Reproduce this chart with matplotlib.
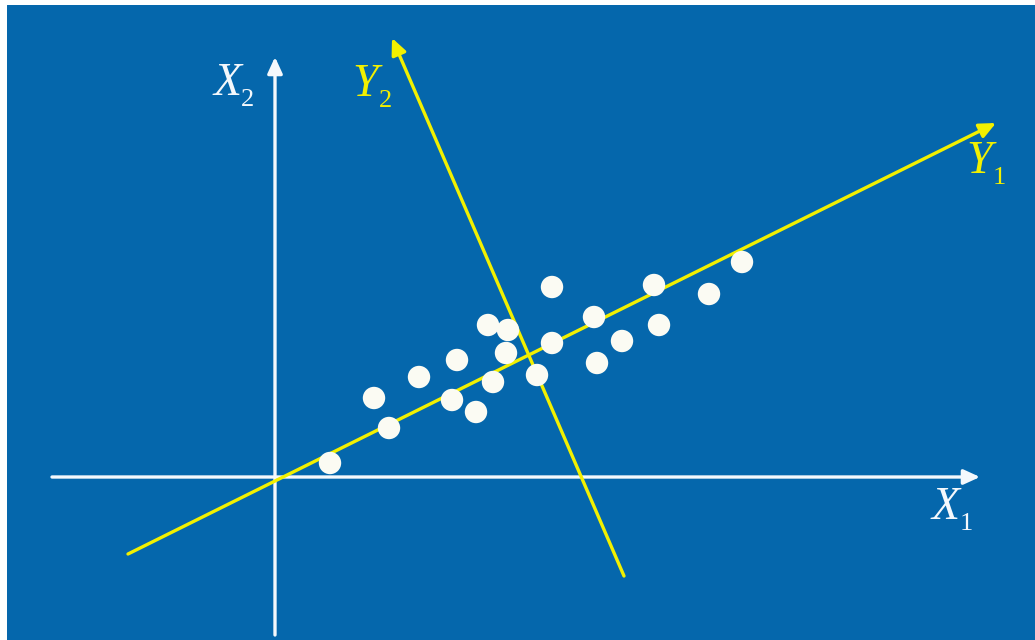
import numpy as np
import matplotlib
matplotlib.use("Agg")
import matplotlib.pyplot as plt

# scatter points (X1, X2), origin where the two white axes cross
x1 = [55, 114, 99, 144, 182, 177, 201, 218, 213, 233, 231,
      262, 277, 277, 319, 322, 347, 379, 384, 434, 467]
x2 = [14, 49, 79, 100, 117, 77, 65, 95, 152, 147, 124,
      102, 190, 134, 160, 114, 136, 192, 152, 183, 215]

# axes: (tail, tip)
x1_axis = [(-223, 0), (705, 0)]
x2_axis = [(0, -158), (0, 420)]
y1_axis = [(-147, -77), (721, 354)]
y2_axis = [(349, -99), (117, 439)]

bg = "#0567ac"
white = "#f4f8fc"
yellow = "#f2f000"

fig = plt.figure(figsize=(10.35, 6.4), dpi=100, facecolor="white")
ax = fig.add_axes([7 / 1035, 0, 1028 / 1035, 635 / 640])
ax.set_facecolor(bg)
ax.set_xlim(-268, 760)
ax.set_ylim(-163, 472)
ax.axis("off")
ax.add_patch(plt.Rectangle((0, 0), 1, 1, transform=ax.transAxes,
                           color=bg, zorder=0))


def arrow(seg, color):
    ax.annotate("", xy=seg[1], xytext=seg[0],
                arrowprops=dict(arrowstyle="-|>,head_length=0.7,head_width=0.32",
                                lw=2.4, color=color, shrinkA=0, shrinkB=0,
                                mutation_scale=14), zorder=2)


arrow(x1_axis, white)
arrow(x2_axis, white)
arrow(y1_axis, yellow)
arrow(y2_axis, yellow)

ax.scatter(x1, x2, s=260, color="#fbfbf3", edgecolors="none", zorder=3)


def label(x, y, letter, sub, color):
    ax.text(x, y, letter, fontsize=33, family="Liberation Serif",
            style="italic", color=color, ha="center", va="center", zorder=4)
    ax.text(x + 20, y - 16, sub, fontsize=19, family="Liberation Serif",
            color=color, ha="center", va="center", zorder=4)


label(-47, 393, "X", "2", white)
label(671, -31, "X", "1", white)
label(90, 392, "Y", "2", yellow)
label(704, 315, "Y", "1", yellow)

fig.savefig("out.png", dpi=100, facecolor="white")
